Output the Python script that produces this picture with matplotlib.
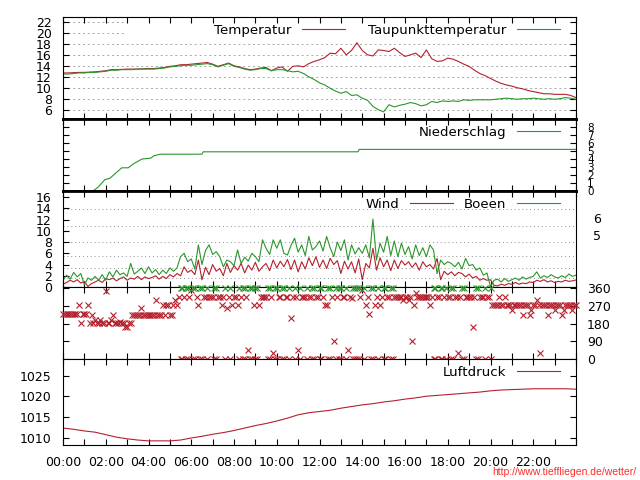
import numpy as np
import matplotlib
matplotlib.use("Agg")
import matplotlib.pyplot as plt
from matplotlib.patches import Rectangle
from matplotlib.ticker import MultipleLocator, FuncFormatter

# Temperatur / Taupunkt, alle 15 Minuten (00:00 .. 24:00)
temperatur = [
    12.7, 12.7, 12.75, 12.8,
    12.8, 12.85, 12.9, 13.0,
    13.1, 13.3, 13.3, 13.35,
    13.4, 13.4, 13.4, 13.45,
    13.5, 13.5, 13.6, 13.7,
    13.9, 14.0, 14.2, 14.2,
    14.3, 14.4, 14.5, 14.6,
    14.3, 13.9, 14.2, 14.5,
    14.0, 13.8, 13.5, 13.3,
    13.4, 13.6, 13.7, 13.1,
    13.6, 13.8, 13.0, 13.9,
    14.0, 13.8, 14.4, 14.8,
    15.1, 15.5, 16.3, 16.2,
    17.2, 16.0, 16.8, 18.2,
    16.8, 16.0, 15.8, 16.9,
    16.8, 16.6, 17.2, 16.4,
    15.7, 16.0, 16.3, 15.5,
    16.9, 15.3, 14.8, 14.9,
    15.4, 15.2, 14.8, 14.3,
    13.9, 13.2, 12.6, 12.2,
    11.7, 11.2, 10.8, 10.5,
    10.3, 10.0, 9.8, 9.5,
    9.3, 9.1, 8.9, 8.9,
    8.8, 8.8, 8.8, 8.6,
    8.2,
]
taupunkt = [
    12.5, 12.5, 12.6, 12.7,
    12.7, 12.8, 12.8, 12.9,
    13.0, 13.2, 13.2, 13.3,
    13.3, 13.3, 13.4, 13.4,
    13.4, 13.4, 13.5, 13.6,
    13.8, 13.9, 14.0, 14.1,
    14.1, 14.2, 14.3, 14.4,
    14.2, 13.8, 14.1, 14.4,
    13.9, 13.7, 13.4, 13.2,
    13.3, 13.5, 13.5, 13.1,
    13.3, 13.3, 13.1, 12.9,
    13.0, 12.6, 12.0, 11.5,
    10.9, 10.5, 9.9, 9.4,
    9.0, 9.3, 8.6, 8.7,
    8.1, 7.7, 6.6, 6.0,
    5.6, 6.9, 6.5, 6.8,
    7.0, 7.3, 7.1, 6.7,
    6.9, 7.5, 7.3, 7.6,
    7.5, 7.6, 7.5, 7.8,
    7.7, 7.8, 7.8, 7.8,
    7.8, 7.9, 8.0, 8.1,
    8.0, 7.9, 8.0, 8.0,
    8.1, 8.0, 7.9, 8.0,
    7.9, 8.0, 8.2, 8.1,
    7.9,
]

# Niederschlag (Summe)
regen_stunden = [0, 1.4, 1.65, 1.95, 2.2, 2.45, 2.75, 3.05, 3.3, 3.7, 4.1, 4.25,
                 4.55, 6.5, 6.56, 13.8, 13.85, 24]
regen_werte = [0, 0, 0.5, 1.4, 1.6, 2.2, 2.9, 2.9, 3.4, 4.0, 4.1, 4.4,
               4.6, 4.6, 4.9, 4.9, 5.2, 5.2]

# Wind und Boeen in m/s, alle 10 Minuten
wind = [
    0.5, 0.8, 1.2, 0.9, 1.3, 0.7,
    1.0, 0.1, 0.6, 0.9, 1.2, 0.8,
    1.5, 1.3, 1.6, 1.1, 1.5, 1.8,
    1.2, 1.6, 1.4, 1.9, 1.3, 1.8,
    1.5, 1.7, 2.0, 1.4, 1.9, 1.5,
    2.2, 1.8, 2.4, 2.0, 3.6, 2.6,
    3.0, 2.2, 4.8, 1.3, 3.5, 2.2,
    4.0, 2.8, 3.3, 2.0, 4.2, 2.6,
    3.8, 3.0, 4.2, 2.5, 3.9, 3.0,
    4.4, 2.8, 3.6, 4.2, 2.9, 4.8,
    3.4, 4.6, 3.6, 4.9, 3.1, 4.8,
    2.7, 4.5, 3.2, 5.2, 3.8, 5.4,
    3.5, 4.8, 3.3, 5.1, 4.0, 4.7,
    2.4, 4.6, 3.2, 4.5, 2.5, 5.0,
    1.3, 4.2, 3.4, 6.9, 3.0, 5.2,
    3.6, 4.8, 2.9, 4.8, 3.3, 4.7,
    3.9, 4.5, 3.5, 4.3, 3.0, 4.5,
    3.6, 4.0, 3.2, 5.1, 1.3, 2.8,
    2.2, 2.7, 2.0, 2.6, 2.4, 1.8,
    2.3, 1.6, 1.9, 1.2, 1.5, 1.2,
    1.3, 0.3, 0.2, 0.5, 0.3, 0.6,
    0.5, 0.8, 0.5, 0.7, 0.6, 0.9,
    0.8, 1.2, 1.0, 1.3, 0.9, 1.1,
    0.8, 1.0, 0.9, 1.2, 1.0, 1.1,
    1.25,
]
boeen = [
    1.2, 2.1, 1.4, 2.6, 1.8, 2.4,
    0.4, 1.6, 1.2, 1.9, 1.2, 2.2,
    1.2, 2.7, 1.8, 3.0, 2.2, 2.5,
    1.9, 4.2, 2.3, 2.8, 3.4, 2.4,
    3.6, 2.5, 3.1, 2.2, 3.0, 2.4,
    3.4, 2.8, 3.4, 5.4, 6.0, 4.5,
    5.0, 3.2, 7.5, 4.0, 6.5, 7.5,
    5.8, 6.3, 5.4, 3.6, 4.8, 4.5,
    3.8, 6.6, 4.2, 5.3, 4.6, 6.0,
    5.4, 4.5, 8.4, 6.9, 5.8, 8.4,
    6.9, 8.4, 6.0, 5.7, 7.4, 8.7,
    6.2, 7.5, 5.6, 9.0, 6.6, 7.2,
    8.2, 6.4, 9.0, 7.0, 5.4, 8.0,
    6.5, 8.4, 4.8, 7.5, 5.9, 7.0,
    6.0, 7.5, 5.2, 12.1, 4.8, 7.8,
    6.2, 9.0, 5.6, 8.2, 5.4, 7.8,
    5.8, 7.2, 5.0, 7.5, 5.6, 7.0,
    5.4, 7.5, 6.6, 2.4, 4.8, 4.0,
    4.5, 4.2, 3.6, 4.4, 3.2, 5.1,
    3.8, 4.0, 3.0, 3.4, 2.1, 2.5,
    0.1, 1.2, 1.4, 0.9, 1.5, 1.0,
    1.3, 1.6, 1.2, 1.8, 1.4, 1.7,
    1.9, 2.7, 1.6, 2.0, 1.7, 2.2,
    1.8, 1.6, 2.0, 1.7, 2.3, 1.9,
    2.1,
]

# Windrichtung in Grad, alle 10 Minuten (0 = Nord, wird auch bei 360 gezeigt)
windrichtung = [
    228, 228, 228, 228, 228, 181,
    228, 274, 225, 200, 181, 181,
    347, 181, 223, 181, 190, 181,
    164, 181, 223, 223, 257, 223,
    223, 223, 300, 223, 274, 274,
    223, 274, 274, 0, 316, 0,
    350, 0, 274, 0, 316, 316,
    316, 0, 316, 316, 257, 0,
    316, 274, 316, 0, 46, 0,
    0, 274, 316, 316, 0, 30,
    0, 316, 0, 316, 206, 0,
    46, 316, 316, 316, 0, 316,
    0, 316, 274, 0, 93, 316,
    0, 316, 46, 308, 0, 0,
    350, 274, 228, 0, 316, 274,
    0, 316, 0, 316, 316, 316,
    316, 300, 93, 333, 316, 316,
    316, 274, 0, 316, 0, 316,
    316, 0, 316, 30, 0, 316,
    316, 161, 0, 316, 316, 316,
    0, 274, 274, 274, 316, 274,
    249, 274, 274, 223, 274, 223,
    274, 300, 30, 274, 223, 274,
    249, 274, 223, 274, 274, 249,
    274,
]
# Zwischenwerte, jeweils 5 Minuten spaeter
windrichtung_zw = [
    228, 228, 228, 228, 274, 228,
    228, 181, 181, 181, 200, 181,
    181, 200, 181, 181, 181, 164,
    181, 223, 223, 223, 223, 223,
    223, 223, 223, 223, 223, 274,
    223, 300, 316, 0, 0, 316,
    0, 316, 0, 316, 0, 316,
    0, 316, 274, 0, 316, 274,
    316, 0, 0, 316, 0, 274,
    0, 316, 316, 0, 316, 0,
    316, 0, 316, 0, 316, 316,
    0, 316, 0, 316, 0, 316,
    0, 274, 0, 316, 0, 0,
    316, 0, 316, 0, 0, 316,
    0, 316, 0, 274, 0, 316,
    0, 316, 0, 316, 316, 300,
    316, 316, 274, 316, 316, 316,
    316, 316, 0, 316, 0, 0,
    316, 0, 316, 316, 0, 316,
    316, 316, 0, 316, 0, 316,
    274, 274, 316, 274, 274, 274,
    274, 274, 274, 274, 274, 249,
    274, 274, 274, 274, 274, 274,
    274, 274, 249, 274, 274, 274,
]

# Luftdruck in hPa, alle 30 Minuten
luftdruck = [
    1012.3, 1012.0, 1011.6, 1011.3, 1010.7, 1010.1, 1009.7, 1009.4,
    1009.2, 1009.2, 1009.2, 1009.4, 1009.9, 1010.3, 1010.8, 1011.2,
    1011.7, 1012.3, 1012.9, 1013.4, 1014.0, 1014.7, 1015.5, 1016.0,
    1016.3, 1016.6, 1017.1, 1017.5, 1017.9, 1018.2, 1018.6, 1018.9,
    1019.3, 1019.6, 1020.0, 1020.2, 1020.4, 1020.6, 1020.8, 1021.0,
    1021.3, 1021.5, 1021.6, 1021.7, 1021.8, 1021.8, 1021.8, 1021.8,
    1021.7,
]

temp_ticks = [6, 8, 10, 12, 14, 16, 18, 20, 22]
wind_ticks = [0, 2, 4, 6, 8, 10, 12, 14, 16]
beaufort_grenzen = [1.6, 3.4, 5.5, 8.0, 10.8, 13.9]
beaufort_mitte = [9.35, 12.35]
beaufort_labels = ["5", "6"]
richtung_ticks = [0, 90, 180, 270, 360]
druck_ticks = [1010, 1015, 1020, 1025]

t15 = np.arange(len(temperatur)) * 0.25
t10 = np.arange(len(wind)) / 6.0
t10_zw = np.arange(len(windrichtung_zw)) / 6.0 + 1 / 12
t30 = np.arange(len(luftdruck)) * 0.5

ROT = "#b5202e"
GRUEN = "#2a962a"
FS = 9
FS_KEY = 9.6

plt.rcParams["font.family"] = ["DejaVu Sans"]

fig = plt.figure(figsize=(6.4, 4.8), dpi=100)


def panel(top, bottom):
    return fig.add_axes([63 / 640, 1 - bottom / 480, 513 / 640, (bottom - top) / 480])


def x_achse(ax, labels=False):
    ax.set_xlim(0, 24)
    ax.xaxis.set_major_locator(MultipleLocator(2))
    ax.xaxis.set_minor_locator(MultipleLocator(1))
    ax.tick_params(axis="x", which="both", direction="in", top=True, bottom=True,
                   length=4, width=0.8, labelbottom=labels, labelsize=FS, pad=8)
    ax.xaxis.set_major_formatter(FuncFormatter(lambda v, p: f"{int(v):02d}:00" if v < 24 else ""))
    ax.tick_params(axis="y", direction="in", left=True, right=True, length=4, width=0.8,
                   labelsize=FS, pad=8)
    for s in ax.spines.values():
        s.set_linewidth(0.8)


def legende(ax, handles, ncol=1, spacing=1.8):
    ax.legend(handles=handles, loc="upper right", bbox_to_anchor=(0.982, 1.0), ncol=ncol,
              markerfirst=False, frameon=False, handlelength=3.2, handletextpad=0.85,
              columnspacing=spacing, borderaxespad=0.1, fontsize=FS_KEY)


# Temperatur
ax1 = panel(17, 119)
x_achse(ax1)
ax1.set_ylim(4.3, 22.9)
ax1.set_yticks(temp_ticks)
for v in temp_ticks:
    ax1.axhline(v, color="#a8a8a8", linestyle=(0, (2, 3)), linewidth=0.7, zorder=1)
ax1.add_patch(Rectangle((0.121, 0.784), 0.879, 0.216, transform=ax1.transAxes,
                        facecolor="white", edgecolor="none", zorder=1.2))
l_t, = ax1.plot(t15, temperatur, color=ROT, lw=0.8, label="Temperatur")
l_d, = ax1.plot(t15, taupunkt, color=GRUEN, lw=0.8, label="Taupunkttemperatur")
legende(ax1, [l_t, l_d], ncol=2, spacing=1.7)
ax1.spines["bottom"].set_linewidth(2)

# Niederschlag
ax2 = panel(119, 191)
x_achse(ax2)
ax2.set_ylim(0, 9)
ax2.set_yticks(range(0, 9))
ax2.tick_params(axis="y", labelleft=False, labelright=True, labelsize=7.5)
l_r, = ax2.plot(regen_stunden, regen_werte, color=GRUEN, lw=0.8, label="Niederschlag")
legende(ax2, [l_r])
ax2.spines["top"].set_linewidth(2)
ax2.spines["bottom"].set_linewidth(2)

# Wind
ax3 = panel(191, 287)
x_achse(ax3)
ax3.set_ylim(0, 17.1)
ax3.set_yticks(wind_ticks)
ax3.tick_params(axis="y", right=False)
for v in beaufort_grenzen:
    ax3.axhline(v, color="#909090", linestyle=(0, (1, 3)), linewidth=0.7, zorder=1)
l_w, = ax3.plot(t10, wind, color=ROT, lw=0.8, label="Wind")
l_b, = ax3.plot(t10, boeen, color=GRUEN, lw=0.8, label="Boeen")
legende(ax3, [l_w, l_b], ncol=2, spacing=0.8)
ax3.spines["top"].set_linewidth(2)
ax3b = ax3.twinx()
ax3b.set_ylim(0, 17.1)
ax3b.set_yticks(beaufort_mitte)
ax3b.set_yticklabels(beaufort_labels)
ax3b.tick_params(axis="y", length=0, labelsize=FS, pad=12)
for s in ax3b.spines.values():
    s.set_visible(False)

# Windrichtung
ax4 = panel(287, 359)
x_achse(ax4)
ax4.set_ylim(0, 366)
ax4.set_yticks(richtung_ticks)
ax4.tick_params(axis="y", labelleft=False, labelright=True)
zeiten = np.concatenate([t10, t10_zw])
richtung = np.array(windrichtung + windrichtung_zw)
nord = richtung == 0
ax4.plot(zeiten, richtung, "x", color=ROT, ms=5, mew=0.8, clip_on=False, zorder=3)
ax4.plot(zeiten[nord], np.full(nord.sum(), 360), "x", color=GRUEN, ms=5, mew=0.8,
         clip_on=False, zorder=3)

# Luftdruck
ax5 = panel(359, 445)
x_achse(ax5, labels=True)
ax5.set_ylim(1008.2, 1029)
ax5.set_yticks(druck_ticks)
l_p, = ax5.plot(t30, luftdruck, color=ROT, lw=0.8, label="Luftdruck")
legende(ax5, [l_p])

fig.text(0.995, 0.006, "http://www.tieffliegen.de/wetter/", ha="right", va="bottom",
         color="#ff2a2a", fontsize=7.5, family="Liberation Sans")

fig.savefig("out.png", dpi=100)
